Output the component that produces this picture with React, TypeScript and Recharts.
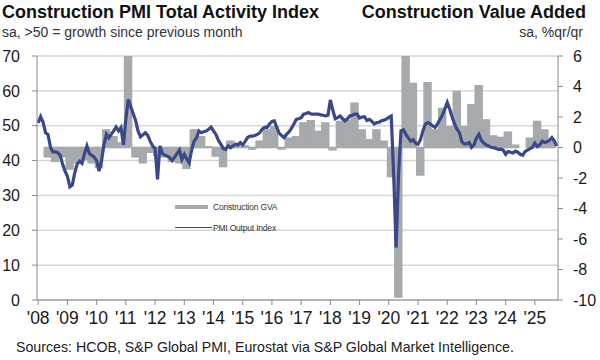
import React from 'react';
import { ComposedChart, Bar, Line, XAxis, YAxis, CartesianGrid, Legend } from 'recharts';

const FONT = '"Liberation Sans", Arial, sans-serif';

// Construction PMI total activity index, monthly, Jan 2008 .. Oct 2025
const pmiOutput = [
  50.8, 52.6, 51.0, 48.0, 47.5, 44.0, 42.5, 42.5, 42.3, 41.5, 39.0, 37.0,
  35.5, 32.5, 33.0, 36.5, 39.0, 39.8, 39.2, 42.0, 44.2, 42.0, 41.5, 41.0,
  40.0, 37.0, 40.0, 44.5, 47.5, 46.5, 47.5, 48.5, 49.6, 48.5, 49.5, 44.5,
  52.0, 57.5, 55.5, 53.5, 51.5, 48.5, 46.8, 47.4, 48.0, 47.2, 45.5, 44.2,
  43.5, 34.6, 44.2, 42.0, 41.5, 41.3, 40.8, 40.0, 41.0, 42.0, 43.0, 40.3,
  41.8, 40.5, 39.4, 43.0, 45.5, 46.5, 48.5, 48.0, 48.3, 48.5, 49.0, 49.6,
  48.5, 47.5, 45.8, 44.7, 43.5, 43.2, 44.2, 43.7, 44.2, 44.7, 44.5, 45.2,
  44.5, 45.5, 46.6, 47.0, 47.0, 47.2, 47.5, 48.0, 49.0, 49.5, 49.5, 50.5,
  51.2, 51.4, 49.5, 47.8, 47.2, 46.6, 47.5, 48.2, 49.2, 50.5, 51.8, 52.0,
  52.3, 53.3, 53.5, 53.8, 53.4, 53.3, 53.3, 53.3, 53.1, 53.0, 52.8, 53.0,
  57.4, 54.5, 52.0, 52.3, 52.8, 52.0, 51.4, 52.0, 52.8, 53.0, 53.3, 53.3,
  52.2, 52.5, 52.6, 51.5, 51.8, 51.3, 50.5, 50.9, 51.0, 51.4, 51.6, 51.9,
  52.4, 52.8, 36.0, 15.0, 36.0, 48.5, 48.8, 47.5, 46.5, 45.6, 46.0, 45.0,
  44.7, 46.0, 48.5, 50.4, 50.9, 50.5, 50.0, 49.5, 50.5, 51.8, 53.0, 54.8,
  56.7, 54.8, 52.5, 50.5, 49.0, 48.0, 45.4, 44.8, 44.8, 45.2, 43.8, 44.5,
  46.5, 47.5, 45.8, 45.0, 44.5, 44.2, 43.8, 43.7, 43.5, 43.2, 43.3, 43.0,
  41.8, 42.6, 42.4, 42.2, 42.7, 42.4, 41.8, 41.5, 42.6, 43.0, 43.4, 43.8,
  45.0, 44.0, 44.5, 45.6, 45.2, 45.4, 45.8, 46.6, 45.6, 44.2,
];

// Construction gross value added, % q/q, Q1 2008 .. Q3 2025
const constructionGva = [
  0.0, -0.6, -0.9, -0.6,
  -1.4, -1.0, -0.8, -1.0,
  -1.3, 1.15, 0.7, 0.3,
  6.0, -0.6, -1.0, -0.3,
  -0.5, -0.6, -0.9, -1.0,
  -1.35, 1.15, 0.7, 0.05,
  -0.55, -1.25, 0.4, 0.2,
  0.1, -0.1, 0.4, 1.15,
  1.35, -0.1, 0.6, 0.7,
  1.6, 1.75, 1.05, 1.6,
  -0.15, 1.7, 1.75, 2.9,
  1.15, 0.5, 1.15, 0.4,
  -1.9, -9.8, 6.0, 4.2,
  -1.8, 4.25, 1.15, 2.55,
  1.35, 3.65, 1.35, 2.8,
  4.05, 1.8, 0.75, 0.65,
  1.0, 0.15, 0.0, 0.6,
  1.7, 1.15, 0.4,
];

const startYear = 2008;
const pmiTicks = [0, 10, 20, 30, 40, 50, 60, 70];
const gvaTicks = [-10, -8, -6, -4, -2, 0, 2, 4, 6];

// one row per month, the quarterly GVA value sits on each month of its quarter
const rows = pmiOutput.map((v, i) => ({
  month: `${startYear + Math.floor(i / 12)}-${String((i % 12) + 1).padStart(2, '0')}`,
  pmi: v,
  gva: constructionGva[Math.floor(i / 3)] ?? null,
}));

const BAR = '#a7aaad';
const LINE = '#3a4889';
const AXIS = '#8a8a8a';

const LegendBox = () => (
  <div style={{ fontFamily: FONT, fontSize: 8.5, color: '#333', letterSpacing: -0.2 }}>
    <div style={{ display: 'flex', alignItems: 'center', height: 21 }}>
      <span style={{ display: 'inline-block', width: 33, height: 4, background: BAR, marginRight: 5 }} />
      Construction GVA
    </div>
    <div style={{ display: 'flex', alignItems: 'center', height: 21 }}>
      <span style={{ display: 'inline-block', width: 37, height: 1.5, background: LINE, marginRight: 1 }} />
      PMI Output Index
    </div>
  </div>
);

const App: React.FC = () => {
  const tickStyle = { fontSize: 16, fill: '#1a1a1a', fontFamily: FONT };
  return (
    <div style={{ position: 'absolute', left: 0, top: 0, width: 600, height: 360, background: '#fff' }}>
      <ComposedChart
        width={600}
        height={360}
        data={rows}
        margin={{ top: 56, right: 0, left: 0, bottom: 30 }}
        barCategoryGap={0}
        barGap={0}
      >
        <CartesianGrid vertical={false} stroke="#d6d6d6" strokeWidth={1.5} />
        <XAxis
          dataKey="month"
          interval={11}
          height={30}
          tickFormatter={(m: string) => "'" + m.slice(2, 4)}
          tick={{ fontSize: 17.5, fill: '#1a1a1a', fontFamily: FONT }}
          tickSize={5}
          tickMargin={7}
          stroke={AXIS}
          tickLine={{ stroke: AXIS }}
        />
        <YAxis
          domain={[0, 70]}
          ticks={pmiTicks}
          width={37}
          tick={tickStyle}
          tickSize={5}
          tickMargin={12}
          stroke={AXIS}
          tickLine={{ stroke: AXIS }}
          allowDataOverflow
        />
        <YAxis
          yAxisId="gva"
          orientation="right"
          domain={[-10, 6]}
          ticks={gvaTicks}
          width={42}
          tick={tickStyle}
          tickSize={5}
          tickMargin={10}
          stroke={AXIS}
          tickLine={{ stroke: AXIS }}
          allowDataOverflow
        />
        <Legend
          layout="horizontal"
          verticalAlign="middle"
          align="center"
          content={<LegendBox />}
          wrapperStyle={{ position: 'absolute', left: 175, top: 196, width: 'auto' }}
        />
        <Bar
          yAxisId="gva"
          dataKey="gva"
          fill={BAR}
          stroke={BAR}
          strokeWidth={1.6}
          isAnimationActive={false}
          name="Construction GVA"
        />
        <Line
          dataKey="pmi"
          stroke={LINE}
          strokeWidth={3.2}
          dot={false}
          activeDot={false}
          type="linear"
          isAnimationActive={false}
          name="PMI Output Index"
        />
      </ComposedChart>
      <svg
        width={600}
        height={360}
        style={{ position: 'absolute', left: 0, top: 0, pointerEvents: 'none' }}
        fontFamily={FONT}
      >
        <text x={2} y={18} fontSize={18} fontWeight="bold" fill="#111">
          Construction PMI Total Activity Index
        </text>
        <text x={586} y={18} fontSize={18} fontWeight="bold" fill="#111" textAnchor="end">
          Construction Value Added
        </text>
        <text x={2} y={37} fontSize={14} fill="#333">
          sa, &gt;50 = growth since previous month
        </text>
        <text x={583} y={37} fontSize={14} fill="#333" textAnchor="end">
          sa, %qr/qr
        </text>
        <text x={16} y={352} fontSize={14.2} fill="#222">
          Sources: HCOB, S&amp;P Global PMI, Eurostat via S&amp;P Global Market Intelligence.
        </text>
      </svg>
    </div>
  );
};

export default App;
